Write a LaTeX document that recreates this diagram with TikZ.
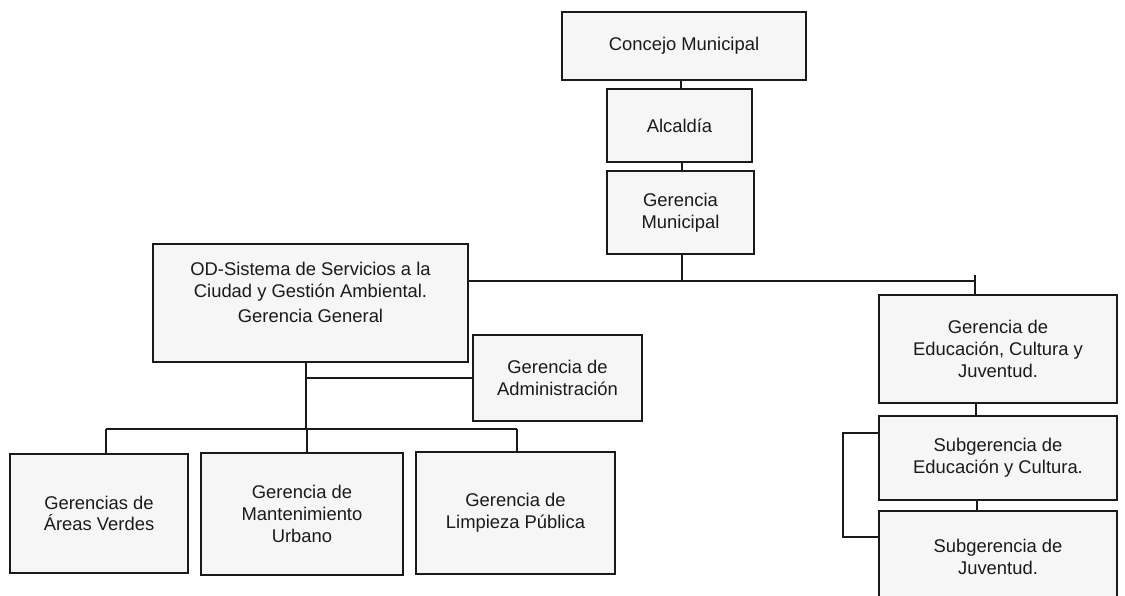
\documentclass[tikz,border=0pt]{standalone}
\usepackage{fontspec}
\setmainfont{Liberation Sans}
\usetikzlibrary{calc}
\definecolor{ink}{HTML}{1A1A1A}
\definecolor{boxfill}{HTML}{F6F6F6}
\begin{document}
\begin{tikzpicture}[x=1pt,y=-1pt,
  orgbox/.style={draw=ink, line width=1.8pt, fill=boxfill, text=ink,
    align=center, inner sep=0pt, anchor=center,
    font=\fontsize{18.4}{21.7}\selectfont},
  link/.style={draw=ink, line width=1.4pt}]
\useasboundingbox (0,0) rectangle (1125,596);
\clip (0,0) rectangle (1125,596);
\fill[white] (0,0) rectangle (1125,596);

% top chain
\node[orgbox, minimum width=244pt, minimum height=68pt] (conc) at (684,46) {Concejo Municipal};
\node[orgbox, minimum width=145pt, minimum height=73pt] (alc) at (679.5,125.5) {Alcaldía};
\node[orgbox, minimum width=147pt, minimum height=83pt] (gm) at (680.5,212.5) {Gerencia\\Municipal};

% left branch
\node[orgbox, minimum width=315pt, minimum height=118pt] (od) at (310.5,303)
  {OD-Sistema de Servicios a la\\Ciudad y Gestión Ambiental.\\[3pt]Gerencia General\\\mbox{}};
\node[orgbox, minimum width=169pt, minimum height=86pt] (adm) at (557.5,378)
  {Gerencia de\\Administración};
\node[orgbox, minimum width=178pt, minimum height=119pt] (av) at (99,513.5) {Gerencias de\\Áreas Verdes};
\node[orgbox, minimum width=202pt, minimum height=122pt] (mu) at (302,514) {Gerencia de\\Mantenimiento\\Urbano};
\node[orgbox, minimum width=199pt, minimum height=122pt] (lp) at (515.5,513) {Gerencia de\\Limpieza Pública};

% right branch
\node[orgbox, minimum width=238pt, minimum height=108pt] (edu) at (998,349) {Gerencia de\\Educación, Cultura y\\Juventud.};
\node[orgbox, minimum width=238pt, minimum height=84pt] (sed) at (998,458) {Subgerencia de\\Educación y Cultura.};
\node[orgbox, minimum width=238pt, minimum height=92pt] (sju) at (998,557) {Subgerencia de\\Juventud.};

% junction coordinates
\coordinate (hub) at (682,281);
\coordinate (rj) at (975,281);
\coordinate (rjt) at (975,275);
\coordinate (odj) at (306,429);
\coordinate (xav) at (106,429);
\coordinate (xmu) at (307,429);
\coordinate (xlp) at (517,429);
\coordinate (bt) at (843,433);
\coordinate (bb) at (843,537);

% connectors
\draw[link] (alc.north) ++(1.5,0) coordinate (a1) -- (a1 |- conc.south);
\draw[link] (gm.north) ++(1.5,0) coordinate (g1) -- (g1 |- alc.south);
\draw[link] (gm.south) ++(1.5,0) coordinate (g2) -- (g2 |- hub);
\draw[link] (od.east |- hub) -- (rj);
\draw[link] (rjt) -- (rj |- edu.north);
\draw[link] (odj |- od.south) -- (odj);
\draw[link] (odj |- adm.west) -- (adm.west);
\draw[link] (xav) -- (xlp);
\draw[link] (xav) -- (xav |- av.north);
\draw[link] (xmu) -- (xmu |- mu.north);
\draw[link] (xlp) -- (xlp |- lp.north);
\draw[link] (edu.south) ++(-22,0) coordinate (e1) -- (e1 |- sed.north);
\draw[link] (sed.south) ++(-21,0) coordinate (s1) -- (s1 |- sju.north);
\draw[link] (sed.west |- bt) -- (bt) -- (bb) -- (sju.west |- bb);
\end{tikzpicture}
\end{document}
